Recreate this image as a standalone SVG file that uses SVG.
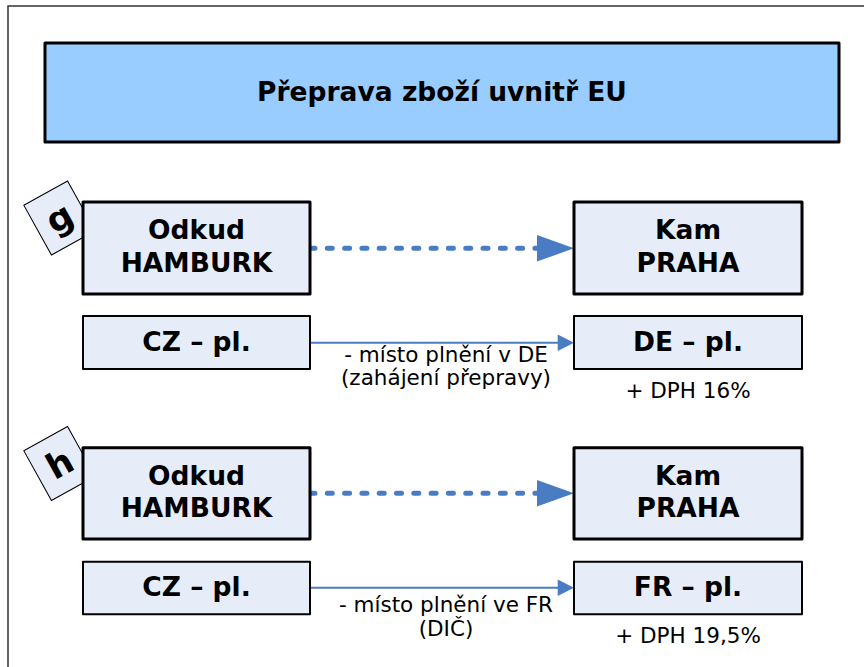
<svg xmlns="http://www.w3.org/2000/svg" width="864" height="667" viewBox="0 0 864 667">
<style>
.b{font-family:"DejaVu Sans","Verdana",sans-serif;font-weight:bold;font-size:26.5px;fill:#000;text-anchor:middle}
.t{font-size:35px}
.n{font-family:"DejaVu Sans","Verdana",sans-serif;font-size:21.5px;fill:#000;text-anchor:middle}
.thick{fill:#E7EDF8;stroke:#000;stroke-width:3;stroke-linejoin:round}
.thin{fill:#E7EDF8;stroke:#000;stroke-width:2;stroke-linejoin:round}
.tag{fill:#E7EDF8;stroke:#000;stroke-width:1}
.dash{stroke:#4A7CC4;stroke-width:5;stroke-linecap:round;stroke-dasharray:5 12.3;fill:none}
.solid{stroke:#4A7CC4;stroke-width:2;fill:none}
.ah{fill:#4A7CC4}
</style>
<rect width="864" height="667" fill="#fff"/>
<path d="M8,667 V6 H864" fill="none" stroke="#333" stroke-width="1.5"/>
<g id="title">
<rect x="45" y="43" width="794" height="99" fill="#99CCFF" stroke="#000" stroke-width="3" stroke-linejoin="round"/>
<text class="b" x="442" y="100.7">Přeprava zboží uvnitř EU</text>
</g>
<g id="connectors">
<line class="dash" x1="310" y1="248.3" x2="537" y2="248.3"/>
<polygon class="ah" points="537,235 574,248.3 537,261.6"/>
<line class="solid" x1="310" y1="342.7" x2="560" y2="342.7"/>
<polygon class="ah" points="557.7,334.5 574,342.7 557.7,350.9"/>
<line class="dash" x1="310" y1="493.3" x2="537" y2="493.3"/>
<polygon class="ah" points="537,480 574,493.3 537,506.6"/>
<line class="solid" x1="310" y1="587.7" x2="560" y2="587.7"/>
<polygon class="ah" points="557.7,579.5 574,587.7 557.7,595.9"/>
</g>
<g id="tag-g">
<rect class="tag" x="34.5" y="189.5" width="50" height="57" transform="rotate(-29 59.5 218)"/>
<text class="b t" x="59.5" y="230" transform="rotate(-29 59.5 218)">g</text>
</g>
<g id="g-odkud">
<rect class="thick" x="83" y="202" width="227" height="92"/>
<text class="b" x="196.5" y="239.3">Odkud</text>
<text class="b" x="196.5" y="271.7">HAMBURK</text>
</g>
<g id="g-kam">
<rect class="thick" x="574" y="202" width="228" height="92"/>
<text class="b" x="688" y="239.3">Kam</text>
<text class="b" x="688" y="271.7">PRAHA</text>
</g>
<g id="g-cz">
<rect class="thin" x="83" y="316" width="227" height="53"/>
<text class="b" x="196.5" y="351">CZ – pl.</text>
</g>
<g id="g-de">
<rect class="thin" x="574" y="316" width="228" height="53"/>
<text class="b" x="688" y="351">DE – pl.</text>
</g>
<g id="g-label">
<text class="n" x="446" y="362">- místo plnění v DE</text>
<text class="n" x="446" y="385">(zahájení přepravy)</text>
</g>
<g id="g-dph">
<text class="n" x="688" y="397.7">+ DPH 16%</text>
</g>
<g id="tag-h">
<rect class="tag" x="34.5" y="435" width="50" height="57" transform="rotate(-29 59.5 463.5)"/>
<text class="b t" x="59.5" y="476" transform="rotate(-29 59.5 463.5)">h</text>
</g>
<g id="h-odkud">
<rect class="thick" x="83" y="447.7" width="227" height="91.3"/>
<text class="b" x="196.5" y="485">Odkud</text>
<text class="b" x="196.5" y="517.3">HAMBURK</text>
</g>
<g id="h-kam">
<rect class="thick" x="574" y="447.7" width="228" height="91.3"/>
<text class="b" x="688" y="485">Kam</text>
<text class="b" x="688" y="517.3">PRAHA</text>
</g>
<g id="h-cz">
<rect class="thin" x="83" y="561.7" width="227" height="52.6"/>
<text class="b" x="196.5" y="595.8">CZ – pl.</text>
</g>
<g id="h-fr">
<rect class="thin" x="574" y="561.7" width="228" height="52.6"/>
<text class="b" x="688" y="596">FR – pl.</text>
</g>
<g id="h-label">
<text class="n" x="446" y="611.7">- místo plnění ve FR</text>
<text class="n" x="446" y="636">(DIČ)</text>
</g>
<g id="h-dph">
<text class="n" x="688" y="643">+ DPH 19,5%</text>
</g>
</svg>
